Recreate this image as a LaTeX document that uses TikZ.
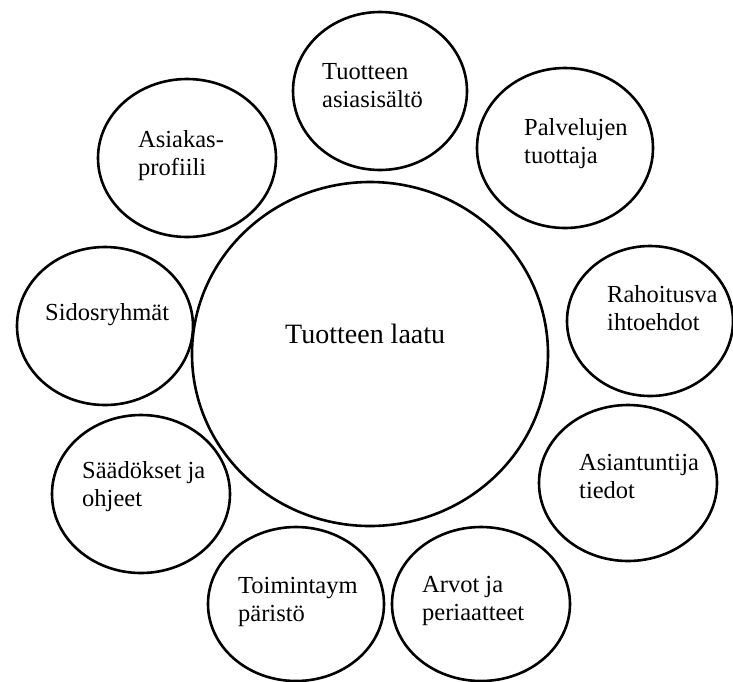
\documentclass[tikz,border=0pt]{standalone}
\usepackage{fontspec}
\setmainfont{Liberation Serif}
\usetikzlibrary{shapes.geometric}
\tikzset{
  circ/.style={draw, ellipse, line width=2.6pt, inner sep=0pt},
  lbl/.style={anchor=base west, inner sep=0pt, font=\fontsize{24.5}{28}\selectfont},
  biglbl/.style={anchor=base west, inner sep=0pt, font=\fontsize{28}{32}\selectfont}
}
\newcommand{\twol}[2]{\begin{tabular}[t]{@{}l@{}}#1\\#2\end{tabular}}
\begin{document}
\begin{tikzpicture}[x=1pt,y=-1pt]
\useasboundingbox (0,0) rectangle (733,681);
% circles
\node[circ, minimum width=356pt, minimum height=344pt] (big) at (370,354) {};
\node[circ, minimum width=174pt, minimum height=158pt] (c1) at (380,91) {};
\node[circ, minimum width=176pt, minimum height=160pt] (c2) at (565,148) {};
\node[circ, minimum width=166pt, minimum height=150pt] (c3) at (650,321) {};
\node[circ, minimum width=178pt, minimum height=156pt] (c4) at (628,483) {};
\node[circ, minimum width=178pt, minimum height=154pt] (c5) at (481,604) {};
\node[circ, minimum width=176pt, minimum height=154pt] (c6) at (296,604) {};
\node[circ, minimum width=178pt, minimum height=158pt] (c7) at (141,494) {};
\node[circ, minimum width=176pt, minimum height=158pt] (c8) at (105,326) {};
\node[circ, minimum width=178pt, minimum height=158pt] (c9) at (187,158) {};
% labels
\node[biglbl] (tbig) at (285,343) {Tuotteen laatu};
\node[lbl] (t1) at (322,79) {\twol{Tuotteen}{asiasisältö}};
\node[lbl] (t2) at (524,135) {\twol{Palvelujen}{tuottaja}};
\node[lbl] (t3) at (607,302) {\twol{Rahoitusva}{ihtoehdot}};
\node[lbl] (t4) at (579,470) {\twol{Asiantuntija}{tiedot}};
\node[lbl] (t5) at (422,592) {\twol{Arvot ja}{periaatteet}};
\node[lbl] (t6) at (238,593) {\twol{Toimintaym}{päristö}};
\node[lbl] (t7) at (82,478) {\twol{Säädökset ja}{ohjeet}};
\node[lbl] (t8) at (45,320) {Sidosryhmät};
\node[lbl] (t9) at (138,147) {\twol{Asiakas-}{profiili}};
\end{tikzpicture}
\end{document}
